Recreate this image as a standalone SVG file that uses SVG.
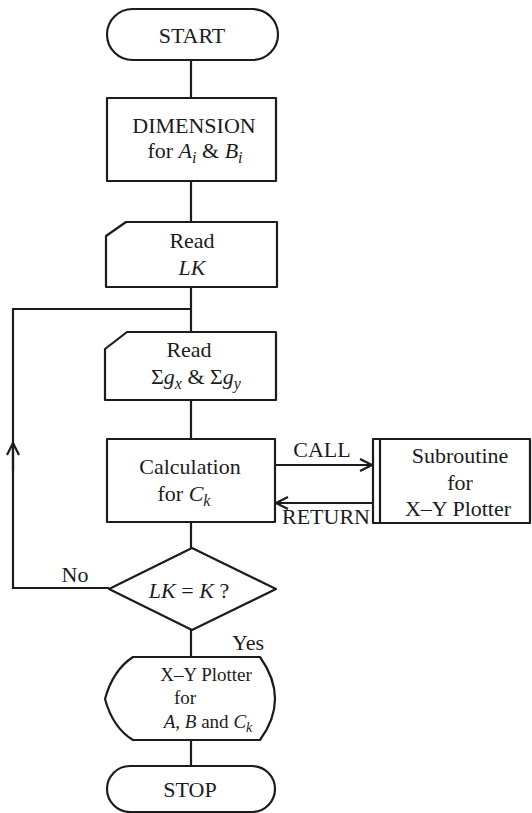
<svg xmlns="http://www.w3.org/2000/svg" width="532" height="813" viewBox="0 0 532 813">
<style>
.s{fill:#fff;stroke:#1c1c1c;stroke-width:2.2;stroke-linejoin:round}
.c{fill:none;stroke:#1c1c1c;stroke-width:2.2}
text{font-family:"Liberation Serif","DejaVu Serif",serif;font-size:22px;fill:#1c1c1c}
.m{text-anchor:middle}
.i{font-style:italic}
.sub{font-style:italic;font-size:16px}
.p{font-size:19px}
.ps{font-style:italic;font-size:14px}
</style>
<defs>
<marker id="ah" viewBox="0 0 14 14" refX="13" refY="7" markerWidth="14" markerHeight="14" markerUnits="userSpaceOnUse" orient="auto">
<path d="M1,1 L13,7 L1,13" fill="none" stroke="#1c1c1c" stroke-width="2.2"/>
</marker>
</defs>
<rect width="532" height="813" fill="#fff"/>
<g id="connectors">
<line class="c" x1="191" y1="60" x2="191" y2="98"/>
<line class="c" x1="191" y1="181" x2="191" y2="222"/>
<line class="c" x1="191" y1="287" x2="191" y2="332"/>
<line class="c" x1="191" y1="400" x2="191" y2="439"/>
<line class="c" x1="191" y1="522" x2="191" y2="548"/>
<line class="c" x1="191" y1="630" x2="191" y2="657"/>
<line class="c" x1="191" y1="740" x2="191" y2="766"/>
<polyline class="c" points="109,588 13,588 13,309 191,309"/>
<line class="c" x1="13" y1="470" x2="13" y2="443" marker-end="url(#ah)"/>
<line class="c" x1="275" y1="465" x2="372" y2="465" marker-end="url(#ah)"/>
<line class="c" x1="373" y1="503" x2="276" y2="503" marker-end="url(#ah)"/>
<text x="322" y="457" class="m">CALL</text>
<text x="326" y="524" class="m">RETURN</text>
<text x="75" y="582" class="m">No</text>
<text x="248" y="650" class="m">Yes</text>
</g>
<g id="start">
<rect class="s" x="107" y="9" width="171" height="51" rx="25.5"/>
<text x="192" y="43" class="m">START</text>
</g>
<g id="dimension">
<rect class="s" x="107" y="98" width="169" height="83"/>
<text x="194" y="133" class="m">DIMENSION</text>
<text x="195" y="158" class="m">for <tspan class="i">A</tspan><tspan class="sub" dy="5">i</tspan><tspan dy="-5">  &amp;  </tspan><tspan class="i">B</tspan><tspan class="sub" dy="5">i</tspan></text>
</g>
<g id="readLK">
<path class="s" d="M126,222 L277,222 L277,287 L106,287 L106,236 Z"/>
<text x="192" y="248" class="m">Read</text>
<text x="192" y="275" class="m i">LK</text>
</g>
<g id="readSigma">
<path class="s" d="M127,332 L276,332 L276,400 L105,400 L105,349 Z"/>
<text x="189" y="357" class="m">Read</text>
<text x="196" y="384" class="m">Σ<tspan class="i">g</tspan><tspan class="sub" dy="5">x</tspan><tspan dy="-5"> &amp; Σ</tspan><tspan class="i">g</tspan><tspan class="sub" dy="5">y</tspan></text>
</g>
<g id="calculation">
<rect class="s" x="107" y="439" width="168" height="83"/>
<text x="190" y="474" class="m">Calculation</text>
<text x="184" y="501" class="m">for  <tspan class="i">C</tspan><tspan class="sub" dy="5">k</tspan></text>
</g>
<g id="subroutine">
<rect class="s" x="373" y="439" width="157" height="84"/>
<line class="c" x1="380" y1="439" x2="380" y2="523"/>
<text x="460" y="463" class="m">Subroutine</text>
<text x="460" y="490" class="m">for</text>
<text x="458" y="516" class="m">X–Y Plotter</text>
</g>
<g id="decision">
<polygon class="s" points="192,548 276,589 192,630 109,589"/>
<text x="189" y="598" class="m"><tspan class="i">LK</tspan> = <tspan class="i">K</tspan> ?</text>
</g>
<g id="plotter">
<path class="s" d="M133,657 L260,657 Q290,699 260,740 L133,740 Q113,728 105,699 Q113,670 133,657 Z"/>
<text x="206" y="681" class="m p">X–Y Plotter</text>
<text x="185" y="704" class="m p">for</text>
<text x="208" y="728" class="m p"><tspan class="i">A</tspan>, <tspan class="i">B</tspan> and <tspan class="i">C</tspan><tspan class="ps" dy="4">k</tspan></text>
</g>
<g id="stop">
<rect class="s" x="107" y="766" width="168" height="46" rx="23"/>
<text x="190" y="797" class="m">STOP</text>
</g>
</svg>
